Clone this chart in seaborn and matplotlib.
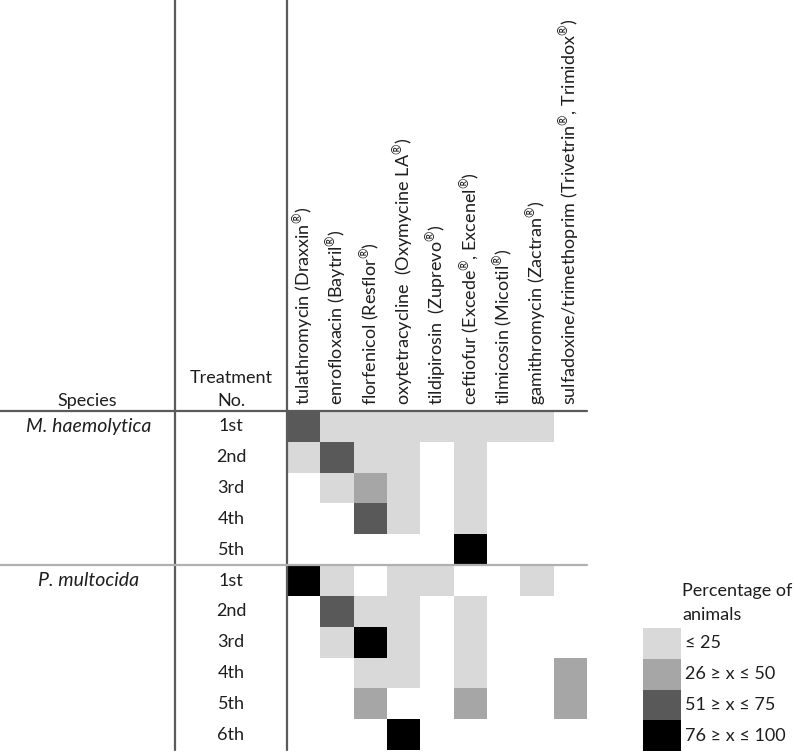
import numpy as np
import pandas as pd
import matplotlib
matplotlib.use("Agg")
import matplotlib.pyplot as plt
import seaborn as sns
from matplotlib.colors import ListedColormap
from matplotlib.lines import Line2D
from matplotlib.transforms import blended_transform_factory

sns.set_theme(style="white")
plt.rcParams['font.family'] = ['Lato', 'DejaVu Sans']
plt.rcParams['mathtext.fontset'] = 'custom'
plt.rcParams['mathtext.rm'] = 'Lato'

R = r"$^{\circledR}$"
drugs = [
    "tulathromycin (Draxxin" + R + ")",
    "enrofloxacin (Baytril" + R + ")",
    "florfenicol (Resflor" + R + ")",
    "oxytetracycline  (Oxymycine LA" + R + ")",
    "tildipirosin  (Zuprevo" + R + ")",
    "ceftiofur (Excede" + R + ", Excenel" + R + ")",
    "tilmicosin (Micotil" + R + ")",
    "gamithromycin (Zactran" + R + ")",
    "sulfadoxine/trimethoprim (Trivetrin" + R + ", Trimidox" + R + ")",
]
species = ["M. haemolytica", "P. multocida"]
treat_mh = ["1st", "2nd", "3rd", "4th", "5th"]
treat_pm = ["1st", "2nd", "3rd", "4th", "5th", "6th"]

# level codes: 0 none, 1 <=25, 2 26-50, 3 51-75, 4 76-100
mh_1st = [3, 1, 1, 1, 1, 1, 1, 1, 0]
mh_2nd = [1, 3, 1, 1, 0, 1, 0, 0, 0]
mh_3rd = [0, 1, 2, 1, 0, 1, 0, 0, 0]
mh_4th = [0, 0, 3, 1, 0, 1, 0, 0, 0]
mh_5th = [0, 0, 0, 0, 0, 4, 0, 0, 0]
pm_1st = [4, 1, 0, 1, 1, 0, 0, 1, 0]
pm_2nd = [0, 3, 1, 1, 0, 1, 0, 0, 0]
pm_3rd = [0, 1, 4, 1, 0, 1, 0, 0, 0]
pm_4th = [0, 0, 1, 1, 0, 1, 0, 0, 2]
pm_5th = [0, 0, 2, 0, 0, 2, 0, 0, 2]
pm_6th = [0, 0, 0, 4, 0, 0, 0, 0, 0]

legend_labels = ["\u2264 25", "26 \u2265 x \u2264 50", "51 \u2265 x \u2264 75", "76 \u2265 x \u2264 100"]
legend_levels = [1, 2, 3, 4]
colors = ["#d9d9d9", "#a6a6a6", "#595959", "#000000"]

rows = [mh_1st, mh_2nd, mh_3rd, mh_4th, mh_5th,
        pm_1st, pm_2nd, pm_3rd, pm_4th, pm_5th, pm_6th]
row_labels = treat_mh + treat_pm
df = pd.DataFrame(rows, columns=drugs)

W, H = 795, 754
fig = plt.figure(figsize=(W / 100, H / 100), dpi=100)

def fx(px):
    return px / W

def fy(py):
    return 1 - py / H

tc = "#1e1e1e"
fs = 13

x0, x1 = 287, 587
y0, y1 = 411, 750
ax = fig.add_axes([fx(x0), fy(y1), fx(x1) - fx(x0), fy(y0) - fy(y1)])
cmap = ListedColormap(colors)
sns.heatmap(df, ax=ax, cmap=cmap, vmin=0.5, vmax=4.5, mask=(df == 0),
            cbar=False, linewidths=0, xticklabels=True, yticklabels=False)
ax.xaxis.tick_top()
ax.set_xticklabels(drugs, rotation=90, ha="center", va="bottom", fontsize=fs, color=tc)
ax.tick_params(axis="x", length=0, pad=4)
ax.set_ylabel("")
ax.set_xlabel("")
for s in ax.spines.values():
    s.set_visible(False)

tr = blended_transform_factory(fig.transFigure, ax.transData)
for i, lab in enumerate(row_labels):
    ax.text(fx(231), i + 0.5, lab, transform=tr, ha="center", va="center", fontsize=fs, color=tc)
ax.text(fx(89), 0.5, species[0], transform=tr, ha="center", va="center", fontsize=14, style="italic", color=tc)
ax.text(fx(89), 5.5, species[1], transform=tr, ha="center", va="center", fontsize=14, style="italic", color=tc)

fig.text(fx(87), fy(406), "Species", ha="center", va="baseline", fontsize=fs, color=tc)
fig.text(fx(231), fy(406), "Treatment\nNo.", ha="center", va="baseline", fontsize=fs,
         color=tc, linespacing=1.55, multialignment="center")

# table lines
lc = "#5a5a5a"
fig.add_artist(Line2D([fx(175), fx(175)], [fy(0), fy(750)], color=lc, lw=1.6, transform=fig.transFigure))
fig.add_artist(Line2D([fx(287), fx(287)], [fy(0), fy(750)], color=lc, lw=1.6, transform=fig.transFigure))
fig.add_artist(Line2D([fx(0), fx(587)], [fy(411), fy(411)], color=lc, lw=1.6, transform=fig.transFigure))
fig.add_artist(Line2D([fx(0), fx(587)], [fy(565), fy(565)], color="#b0b0b0", lw=1.6, transform=fig.transFigure))

# legend
lax = fig.add_axes([fx(643), fy(751), fx(681) - fx(643), fy(628) - fy(751)])
ldf = pd.DataFrame({"v": legend_levels})
sns.heatmap(ldf, ax=lax, cmap=cmap, vmin=0.5, vmax=4.5, cbar=False,
            xticklabels=False, yticklabels=False)
ltr = blended_transform_factory(fig.transFigure, lax.transData)
for i, lab in enumerate(legend_labels):
    lax.text(fx(685), i + 0.5, lab, transform=ltr, ha="left", va="center", fontsize=fs, color=tc)
fig.text(fx(682), fy(603), "Percentage of\nanimals", ha="left", va="center", fontsize=fs,
         color=tc, linespacing=1.55)

fig.savefig("out.png", dpi=100)
